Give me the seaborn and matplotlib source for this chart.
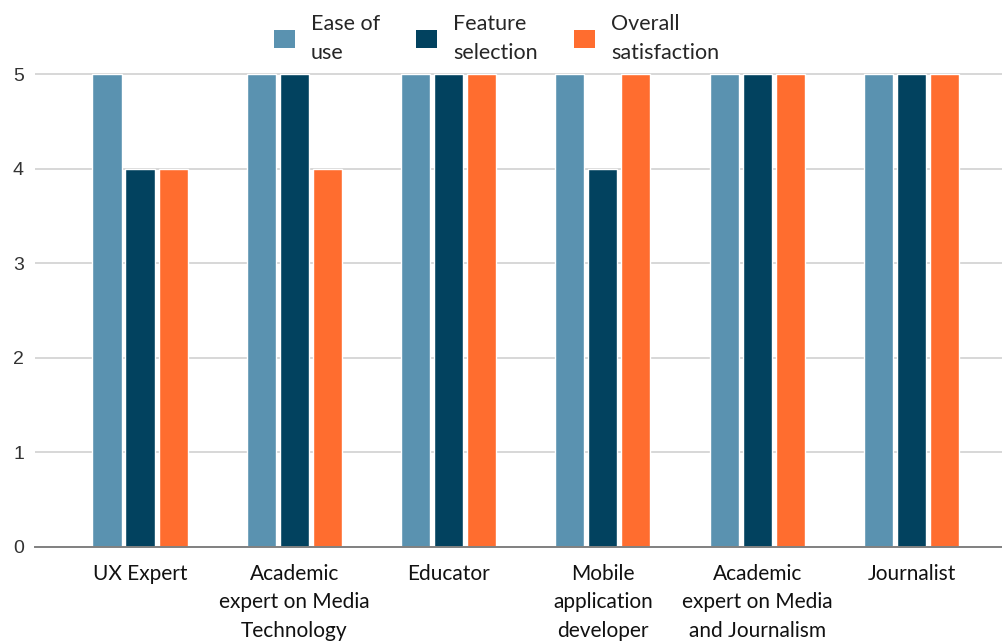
import numpy as np
import pandas as pd
import seaborn as sns
import matplotlib.pyplot as plt
from matplotlib.patches import Patch

# chart data
roles = ['UX Expert', 'Academic\nexpert on Media\nTechnology', 'Educator',
         'Mobile\napplication\ndeveloper', 'Academic\nexpert on Media\nand Journalism',
         'Journalist']
ease_of_use = [5, 5, 5, 5, 5, 5]
feature_selection = [4, 5, 5, 4, 5, 5]
overall_satisfaction = [4, 4, 5, 5, 5, 5]
series_names = ['Ease of\nuse', 'Feature\nselection', 'Overall\nsatisfaction']
y_ticks = [0, 1, 2, 3, 4, 5]

colors = ['#5A92B0', '#02425F', '#FF6D2F']

df = pd.DataFrame({
    'role': roles * 3,
    'score': ease_of_use + feature_selection + overall_satisfaction,
    'metric': [series_names[0]] * 6 + [series_names[1]] * 6 + [series_names[2]] * 6,
})

sns.set_style('white')
plt.rcParams['font.family'] = ['Lato', 'DejaVu Sans']

fig = plt.figure(figsize=(10.03, 6.42), dpi=100)
ax = fig.add_axes([0.035, 0.148, 0.965, 0.744])

sns.barplot(data=df, x='role', y='score', hue='metric', order=roles,
            hue_order=series_names, palette=colors, width=0.642, gap=0.12,
            saturation=1, legend=False, ax=ax)

ax.set_xlim(-0.68, 5.593)
ax.set_ylim(0, 5.05)
ax.set_yticks(y_ticks)
ax.set_yticklabels([str(t) for t in y_ticks], fontfamily='Liberation Sans',
                   fontsize=14, color='#333333')
ax.set_xlabel('')
ax.set_ylabel('')
ax.tick_params(axis='y', length=0, pad=8)
ax.tick_params(axis='x', length=0, pad=12)
for lbl in ax.get_xticklabels():
    lbl.set_fontsize(15)
    lbl.set_color('#111111')
    lbl.set_linespacing(1.55)
    lbl.set_verticalalignment('top')

ax.yaxis.grid(True, color='#d4d4d4', lw=1.3)
ax.set_axisbelow(True)
for s in ['top', 'right', 'left']:
    ax.spines[s].set_visible(False)
ax.spines['bottom'].set_color('#808080')
ax.spines['bottom'].set_linewidth(1.4)

handles = [Patch(facecolor=c, edgecolor='none') for c in colors]
leg = fig.legend(handles, series_names, loc='center', bbox_to_anchor=(0.495, 0.94),
                 ncol=3, frameon=False, fontsize=15.5, handlelength=0.95,
                 handleheight=0.95, handletextpad=0.75, columnspacing=1.7)
for t in leg.get_texts():
    t.set_linespacing(1.55)

plt.savefig('out.png', dpi=100)
